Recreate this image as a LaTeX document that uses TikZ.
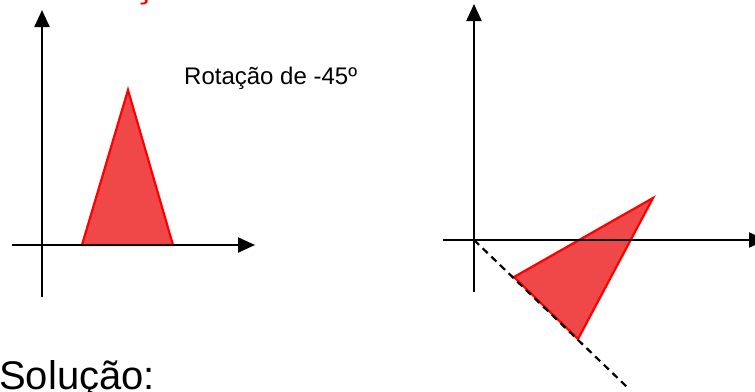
\documentclass[tikz,border=0pt]{standalone}
\usepackage{fontspec}
\setmainfont{Liberation Sans}
\usetikzlibrary{arrows.meta}
\definecolor{rtred}{HTML}{FF0000}
\definecolor{rtfill}{HTML}{F04848}

\begin{document}
\begin{tikzpicture}[x=1pt,y=-1pt,>={Triangle[length=17pt,width=15pt]}]
        \tikzset{axis/.style={->,line width=2.2pt,black},
          tri/.style={draw=rtred,fill=rtfill,line width=2.2pt,line join=miter},
          txt/.style={anchor=base west,inner sep=0pt,font=\fontsize{24}{28}\selectfont}}
        \useasboundingbox (0,0) rectangle (755,391);
        \clip (0,0) rectangle (755,391);
        % left: original
        \coordinate (oa) at (42,245);
        \coordinate (a1) at (82,245);
        \coordinate (a2) at (173,245);
        \coordinate (a3) at (128,90);
        \filldraw[tri] (a1) -- (a2) -- (a3) -- cycle;
        \draw[axis] (42,297) -- (42,10);
        \draw[axis] (12,245) -- (255,245);
        % right: rotated
        \coordinate (ob) at (474,240);
        \coordinate (b1) at (514,277);
        \coordinate (b2) at (578,339);
        \coordinate (b3) at (653,198);
        \coordinate (dashend) at (627,387);
        \filldraw[tri] (b1) -- (b2) -- (b3) -- cycle;
        \draw[axis] (474,292) -- (474,4);
        \draw[axis] (443,240) -- (766,240);
        \draw[line width=2.2pt,dash pattern=on 7pt off 5pt] (ob) -- (dashend);
        % texts
        \node[txt,text=rtred,font=\fontsize{40}{48}\selectfont] (title) at (49,-4) {Rotação};
        \node[txt] (rot) at (184,84) {Rotação de -45º};
        \node[txt,font=\fontsize{40}{48}\selectfont] (sol) at (-1,389) {Solução:};
\end{tikzpicture}
\end{document}
